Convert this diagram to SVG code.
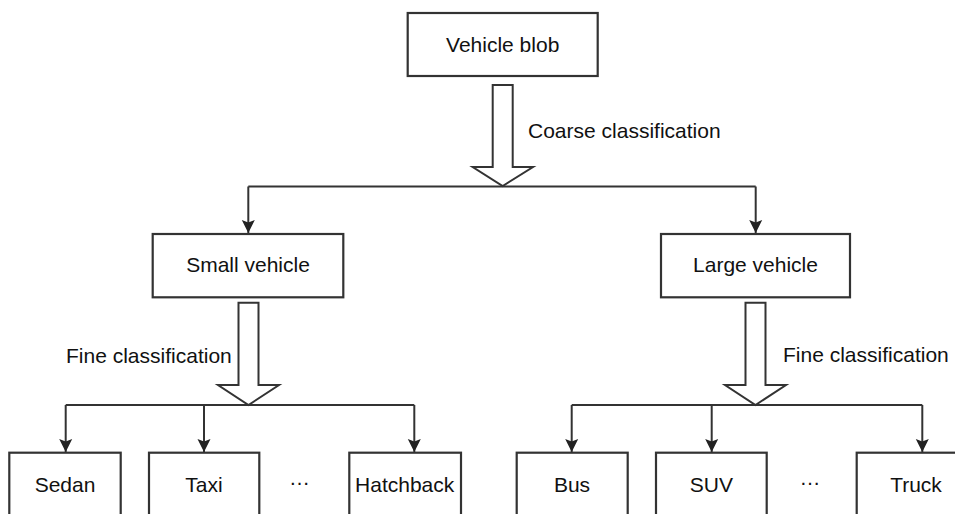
<svg xmlns="http://www.w3.org/2000/svg" width="955" height="514" viewBox="0 0 955 514">
  <defs>
    <style>
      .box { fill: #ffffff; stroke: #333333; stroke-width: 2.2; }
      .lbl { font-family: "Liberation Sans", Arial, sans-serif; font-size: 21px; fill: #111111; }
      .mid { text-anchor: middle; }
      .wire { fill: none; stroke: #333333; stroke-width: 2; }
      .hollow { fill: #ffffff; stroke: #333333; stroke-width: 2; stroke-linejoin: miter; }
    </style>
    <marker id="arrow" markerUnits="userSpaceOnUse" markerWidth="14" markerHeight="14" viewBox="0 0 14 14" refX="13" refY="7" orient="auto">
      <path d="M0,0.5 L13,7 L0,13.5 L2.5,7 Z" fill="#222222"/>
    </marker>
  </defs>

  <rect width="955" height="514" fill="#ffffff"/>

  <!-- connectors -->
  <g id="connectors">
    <!-- coarse split -->
    <polygon class="hollow" points="492.7,85 512.7,85 512.7,167 533,167 502.7,186 472.7,167 492.7,167"/>
    <text class="lbl" x="528" y="138">Coarse classification</text>
    <path class="wire" d="M248.3,186.5 H755.7"/>
    <path class="wire" d="M248.3,186.5 V233" marker-end="url(#arrow)"/>
    <path class="wire" d="M755.7,186.5 V233" marker-end="url(#arrow)"/>

    <!-- fine split, small vehicles -->
    <polygon class="hollow" points="238.5,302.7 258.5,302.7 258.5,385 279,385 248.5,405 218,385 238.5,385"/>
    <text class="lbl" x="66" y="363">Fine classification</text>
    <path class="wire" d="M65.7,405 H414.3"/>
    <path class="wire" d="M65.7,405 V452" marker-end="url(#arrow)"/>
    <path class="wire" d="M204,405 V452" marker-end="url(#arrow)"/>
    <path class="wire" d="M414.3,405 V452" marker-end="url(#arrow)"/>

    <!-- fine split, large vehicles -->
    <polygon class="hollow" points="745.5,302.7 765.5,302.7 765.5,385 786,385 755.5,405 725,385 745.5,385"/>
    <text class="lbl" x="783" y="362">Fine classification</text>
    <path class="wire" d="M571.7,405 H922.3"/>
    <path class="wire" d="M571.7,405 V452" marker-end="url(#arrow)"/>
    <path class="wire" d="M711.7,405 V452" marker-end="url(#arrow)"/>
    <path class="wire" d="M922.3,405 V452" marker-end="url(#arrow)"/>
  </g>

  <!-- root -->
  <g id="vehicle-blob">
    <rect class="box" x="407.7" y="13" width="190" height="63"/>
    <text class="lbl mid" x="502.7" y="52">Vehicle blob</text>
  </g>

  <!-- coarse classes -->
  <g id="small-vehicle">
    <rect class="box" x="152.7" y="234" width="190.6" height="63.3"/>
    <text class="lbl mid" x="248" y="272">Small vehicle</text>
  </g>
  <g id="large-vehicle">
    <rect class="box" x="661" y="234" width="189" height="63.3"/>
    <text class="lbl mid" x="755.5" y="272">Large vehicle</text>
  </g>

  <!-- fine classes, small -->
  <g id="sedan">
    <rect class="box" x="9.3" y="452.7" width="111.4" height="80"/>
    <text class="lbl mid" x="65" y="492">Sedan</text>
  </g>
  <g id="taxi">
    <rect class="box" x="149" y="452.7" width="110.3" height="80"/>
    <text class="lbl mid" x="204" y="492">Taxi</text>
  </g>
  <g id="small-more">
    <text class="lbl mid" x="299.5" y="485">…</text>
  </g>
  <g id="hatchback">
    <rect class="box" x="349.3" y="452.7" width="111.7" height="80"/>
    <text class="lbl mid" x="404.7" y="492">Hatchback</text>
  </g>

  <!-- fine classes, large -->
  <g id="bus">
    <rect class="box" x="516.7" y="452.7" width="111" height="80"/>
    <text class="lbl mid" x="572" y="492">Bus</text>
  </g>
  <g id="suv">
    <rect class="box" x="656" y="452.7" width="110.7" height="80"/>
    <text class="lbl mid" x="711.3" y="492">SUV</text>
  </g>
  <g id="large-more">
    <text class="lbl mid" x="810" y="485">…</text>
  </g>
  <g id="truck">
    <rect class="box" x="856.7" y="452.7" width="115" height="80"/>
    <text class="lbl mid" x="916" y="492">Truck</text>
  </g>
</svg>
